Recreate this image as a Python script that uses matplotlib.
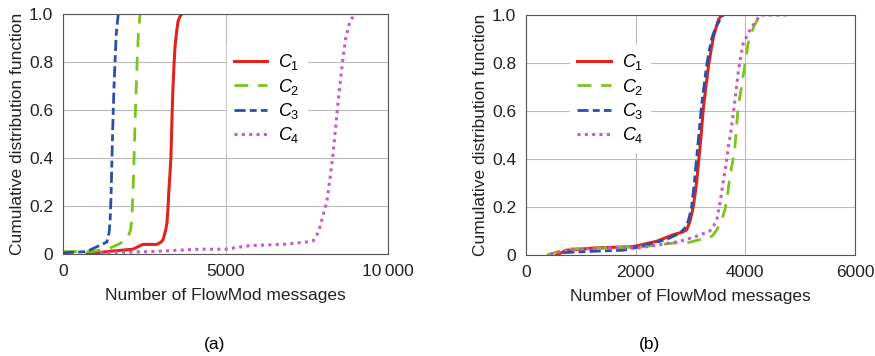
import matplotlib.pyplot as plt

plt.rcParams["font.family"] = ["Liberation Sans", "DejaVu Sans"]
plt.rcParams["mathtext.fontset"] = "custom"
plt.rcParams["mathtext.it"] = "Liberation Sans:italic"
plt.rcParams["mathtext.rm"] = "Liberation Sans"

a_c1_x = [740, 1500, 2150, 2300, 2460, 2890, 3020, 3080, 3160, 3200, 3230, 3260, 3290, 3320,
          3350, 3380, 3420, 3450, 3500, 3540, 3600, 3660]
a_c1_y = [0.0, 0.012, 0.02, 0.03, 0.04, 0.04, 0.05, 0.06, 0.10, 0.13, 0.19, 0.27, 0.33, 0.40,
          0.55, 0.68, 0.80, 0.87, 0.93, 0.97, 0.99, 1.0]
a_c2_x = [0, 900, 1450, 1700, 1970, 2080, 2120, 2150, 2170, 2190, 2215, 2240, 2260, 2280,
          2320, 2370]
a_c2_y = [0.01, 0.01, 0.025, 0.04, 0.06, 0.10, 0.15, 0.25, 0.33, 0.42, 0.54, 0.64, 0.72, 0.80,
          0.92, 1.0]
a_c3_x = [0, 730, 1040, 1350, 1420, 1450, 1480, 1500, 1520, 1540, 1570, 1600, 1640, 1700]
a_c3_y = [0.005, 0.01, 0.03, 0.05, 0.09, 0.14, 0.25, 0.36, 0.47, 0.57, 0.70, 0.80, 0.92, 1.0]
a_c4_x = [1140, 2680, 4200, 5000, 5750, 6770, 7500, 7700, 7800, 7900, 8000, 8120, 8220, 8310,
          8390, 8470, 8550, 8620, 8700, 8830, 8980]
a_c4_y = [0.005, 0.01, 0.02, 0.02, 0.035, 0.04, 0.05, 0.055, 0.075, 0.11, 0.16, 0.22, 0.32,
          0.42, 0.53, 0.64, 0.74, 0.82, 0.90, 0.97, 1.0]

# (b)
b_c1_x = [560, 740, 1290, 1960, 2380, 2690, 2850, 2930, 2990, 3050, 3100, 3140, 3190, 3230,
          3280, 3330, 3380, 3420, 3470, 3510, 3570]
b_c1_y = [0.0, 0.02, 0.03, 0.035, 0.057, 0.085, 0.095, 0.105, 0.14, 0.20, 0.28, 0.37, 0.49,
          0.60, 0.70, 0.79, 0.86, 0.91, 0.95, 0.98, 1.0]
b_c2_x = [380, 740, 1470, 2200, 2690, 2930, 3170, 3300, 3400, 3480, 3570, 3630, 3680, 3720,
          3770, 3810, 3870, 3930, 3990, 4050, 4150, 4270]
b_c2_y = [0.0, 0.025, 0.03, 0.036, 0.05, 0.05, 0.064, 0.067, 0.08, 0.105, 0.147, 0.19, 0.26,
          0.33, 0.39, 0.45, 0.62, 0.70, 0.79, 0.88, 0.95, 1.0]
b_c3_x = [680, 1170, 1775, 2080, 2565, 2800, 2930, 2980, 3020, 3070, 3110, 3160, 3200, 3250,
          3295, 3340, 3385, 3460, 3540, 3600]
b_c3_y = [0.01, 0.015, 0.02, 0.035, 0.065, 0.09, 0.12, 0.16, 0.20, 0.30, 0.40, 0.52, 0.62,
          0.71, 0.79, 0.85, 0.90, 0.95, 0.98, 1.0]
b_c4_x = [440, 740, 1470, 2080, 2440, 2810, 3110, 3350, 3420, 3480, 3540, 3600, 3650, 3690,
          3740, 3780, 3830, 3870, 3920, 3960, 4090, 4270, 4750]
b_c4_y = [0.003, 0.02, 0.03, 0.03, 0.043, 0.057, 0.078, 0.10, 0.12, 0.147, 0.22, 0.31, 0.38,
          0.45, 0.52, 0.59, 0.68, 0.76, 0.83, 0.88, 0.94, 1.0, 1.0]

labels = ["$C_1$", "$C_2$", "$C_3$", "$C_4$"]
styles = [
    dict(color="#E2231A", linestyle="-", linewidth=2.2),
    dict(color="#7DC31E", linestyle=(0, (5, 3.5)), linewidth=2.0),
    dict(color="#2A4FA8", linestyle=(0, (4, 1.5, 2.5, 1.5)), linewidth=2.0),
    dict(color="#C45BC6", linestyle=(0, (1, 1.4)), linewidth=2.2),
]

FS = 12.5

fig = plt.figure(figsize=(8.75, 3.56), dpi=100)
ax1 = fig.add_axes([63 / 875, 1 - 254 / 356, 325 / 875, 240 / 356])
ax2 = fig.add_axes([526 / 875, 1 - 255 / 356, 329 / 875, 240 / 356])

panels = [
    (ax1, [(a_c1_x, a_c1_y), (a_c2_x, a_c2_y), (a_c3_x, a_c3_y), (a_c4_x, a_c4_y)],
     10000, [0, 5000, 10000], ["0", "5000", "10\u2009000"], (0.482, 0.90)),
    (ax2, [(b_c1_x, b_c1_y), (b_c2_x, b_c2_y), (b_c3_x, b_c3_y), (b_c4_x, b_c4_y)],
     6000, [0, 2000, 4000, 6000], ["0", "2000", "4000", "6000"], (0.112, 0.905)),
]

for ax, series, xmax, xt, xtl, legpos in panels:
    for (x, y), lab, st in zip(series, labels, styles):
        ax.plot(x, y, label=lab, **st)
    ax.set_xlim(0, xmax)
    ax.set_ylim(0, 1)
    ax.set_xticks(xt)
    ax.set_xticklabels(xtl)
    ax.set_yticks([0, 0.2, 0.4, 0.6, 0.8, 1.0])
    ax.set_yticklabels(["0", "0.2", "0.4", "0.6", "0.8", "1.0"])
    ax.tick_params(direction="in", length=0, labelsize=FS, labelcolor="#222222", pad=7)
    ax.grid(True, color="#BBBBBB", linewidth=0.8)
    for sp in ax.spines.values():
        sp.set_color("#555555")
        sp.set_linewidth(0.8)
    ax.set_xlabel("Number of FlowMod messages", fontsize=FS, color="#222222", labelpad=7)
    ax.set_ylabel("Cumulative distribution function", fontsize=FS, color="#222222",
                  labelpad=3)
    leg = ax.legend(loc="upper left", bbox_to_anchor=legpos, frameon=True, fontsize=13,
                    handlelength=1.85, handletextpad=0.6, labelspacing=0.24, borderpad=0.3)
    leg.get_frame().set_edgecolor("white")
    leg.get_frame().set_alpha(1.0)
    leg.get_frame().set_boxstyle("square", pad=0.1)

fig.text(215 / 875, 1 - 345 / 356, "(a)", ha="center", va="center", fontsize=FS)
fig.text(650 / 875, 1 - 345 / 356, "(b)", ha="center", va="center", fontsize=FS)

fig.savefig("out.png", dpi=100)
